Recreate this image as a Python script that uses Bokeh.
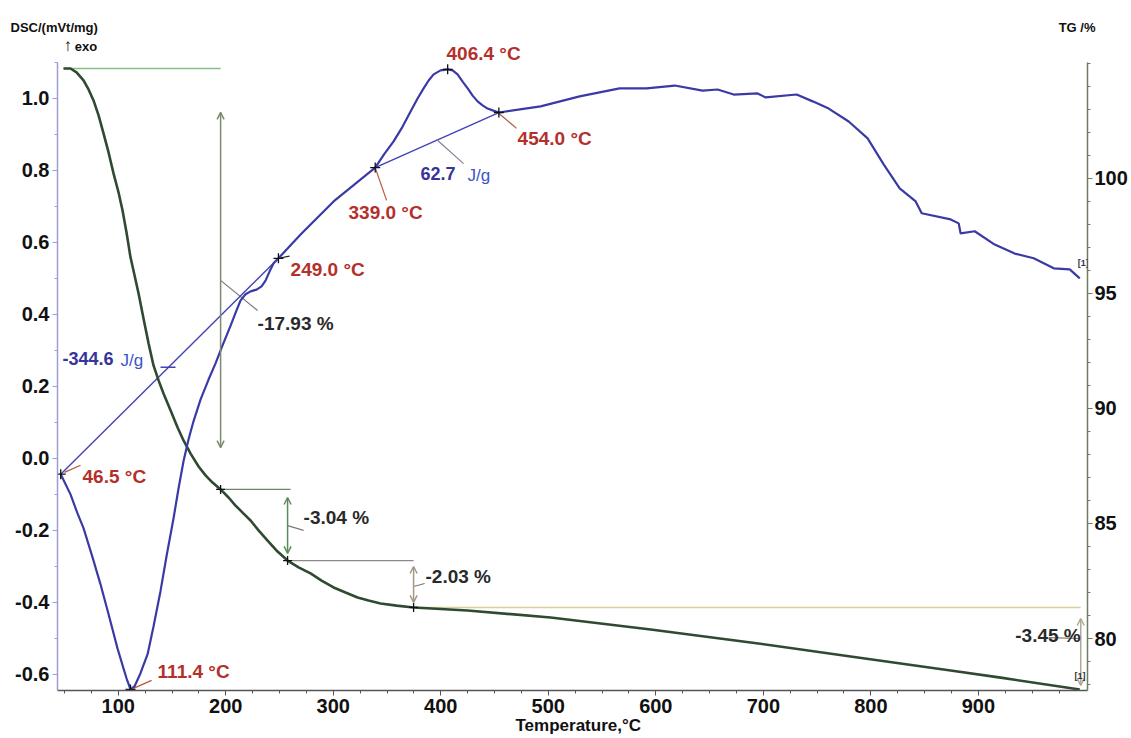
from bokeh.plotting import figure
from bokeh.models import (Range1d, LinearAxis, FixedTicker, PrintfTickFormatter,
                          Label, Arrow, OpenHead, Title)
from bokeh.embed import file_html
from bokeh.resources import INLINE

# ---------------- data ----------------
dsc_T = [46.5, 55.6, 62.1, 67.7, 76.1, 83.5, 91.0, 99.3, 104.0, 107.7, 111.4, 115.2,
         120.7, 127.3, 132.8, 139.3, 144.9, 151.4, 156.1, 160.7, 165.4, 170.0, 176.6,
         184.0, 190.5, 197.0, 204.5, 210.0, 213.8, 218.4, 223.1, 228.7, 233.3, 237.0,
         240.7, 244.5, 249.0, 269.6, 300.3, 339.0, 347.7, 356.1, 364.5, 371.9, 378.4,
         384.0, 388.7, 393.3, 399.8, 406.4, 411.0, 415.6, 420.3, 425.0, 429.6, 434.2,
         438.9, 443.5, 448.2, 454.0,
         492.8, 529.1, 566.3, 591.4, 617.5, 643.5, 657.5, 672.4, 694.7, 702.1,
         731.0, 745.9, 760.8, 779.4, 797.0, 811.9, 826.8, 841.7, 847.3, 874.2, 881.7,
         883.5, 896.6, 915.2, 933.8, 951.5, 970.1, 985.0, 994.3]
dsc_V = [-0.044, -0.100, -0.153, -0.194, -0.275, -0.350, -0.433, -0.528, -0.575, -0.611,
         -0.642, -0.633, -0.597, -0.544, -0.467, -0.369, -0.272, -0.167, -0.083, -0.008,
         0.053, 0.103, 0.164, 0.219, 0.264, 0.314, 0.369, 0.411, 0.439, 0.456, 0.464,
         0.469, 0.478, 0.494, 0.519, 0.542, 0.556, 0.622, 0.714, 0.808, 0.847, 0.881,
         0.922, 0.964, 1.000, 1.028, 1.050, 1.067, 1.078, 1.081, 1.078, 1.067, 1.047,
         1.028, 1.008, 0.992, 0.981, 0.972, 0.967, 0.961,
         0.978, 1.006, 1.028, 1.028, 1.036, 1.022, 1.025, 1.011, 1.014, 1.003,
         1.011, 0.992, 0.972, 0.936, 0.889, 0.817, 0.750, 0.714, 0.681, 0.664, 0.653,
         0.625, 0.631, 0.594, 0.569, 0.556, 0.528, 0.525, 0.500]

tg_T = [49.1, 55.6, 61.2, 67.7, 72.4, 77.0, 81.7, 86.3, 91.0, 95.6, 100.3, 104.0, 107.7,
        111.4, 115.2, 118.9, 123.5, 128.2, 132.8, 137.5, 142.1, 148.7, 155.2, 160.7,
        167.3, 174.7, 181.2, 187.7, 195.2, 202.6, 209.1, 216.6, 223.1, 230.5, 238.9,
        248.2, 257.5, 267.7, 278.9, 289.1, 300.3, 311.4, 322.6, 332.8, 344.0, 358.9,
        374.7, 424.9, 502.1, 595.2, 688.2, 781.2, 874.2, 920.7, 994.3]
tg_V = [104.78, 104.78, 104.61, 104.26, 103.87, 103.39, 102.74, 101.96, 101.13, 100.22,
        99.39, 98.61, 97.65, 96.57, 95.78, 95.00, 93.91, 92.83, 91.87, 91.22, 90.65,
        89.91, 89.17, 88.61, 88.04, 87.48, 87.09, 86.78, 86.48, 86.13, 85.78, 85.43,
        85.13, 84.70, 84.26, 83.78, 83.39, 83.09, 82.83, 82.52, 82.22, 82.00, 81.78,
        81.65, 81.52, 81.43, 81.35, 81.22, 80.91, 80.39, 79.83, 79.22, 78.61, 78.30,
        77.78]

# DSC characteristic points
dsc_mark_T = [46.5, 111.4, 249.0, 339.0, 406.4, 454.0]
dsc_mark_V = [-0.044, -0.642, 0.556, 0.808, 1.081, 0.961]
dsc_mark_txt = ["46.5 °C", "111.4 °C", "249.0 °C", "339.0 °C", "406.4 °C", "454.0 °C"]
peak_areas = ["-344.6", "62.7"]

# TG step points
tg_start = [49.1, 104.78]
tg_mark_T = [195.2, 257.5, 374.7]
tg_mark_V = [86.48, 83.39, 81.35]
tg_steps = ["-17.93 %", "-3.04 %", "-2.03 %", "-3.45 %"]

x_ticks = [100, 200, 300, 400, 500, 600, 700, 800, 900]
x_minor = [50, 75, 125, 150, 175, 225, 250, 275, 325, 350, 375, 425, 450, 475, 525, 550,
           575, 625, 650, 675, 725, 750, 775, 825, 850, 875, 925, 950, 975]
dsc_ticks = [-0.6, -0.4, -0.2, 0.0, 0.2, 0.4, 0.6, 0.8, 1.0]
dsc_minor = [-0.5, -0.3, -0.1, 0.1, 0.3, 0.5, 0.7, 0.9, 1.1]
tg_ticks = [80, 85, 90, 95, 100]
tg_minor = [78, 79, 81, 82, 83, 84, 86, 87, 88, 89, 91, 92, 93, 94, 96, 97, 98, 99,
            101, 102, 103, 104, 105]

# ---------------- figure ----------------
FONT = "Liberation Sans"
RED = "#b3302b"
BLUE = "#3a3aa6"

p = figure(width=1131, height=738, output_backend="svg", toolbar_location=None,
           x_range=Range1d(43.5, 1001.5), y_range=Range1d(-0.645, 1.1778),
           min_border_left=57, min_border_right=44, min_border_top=34,
           min_border_bottom=48)
p.extra_y_ranges = {"tg": Range1d(77.74, 106.257)}
p.outline_line_color = None
p.xgrid.visible = False
p.ygrid.visible = False
p.background_fill_color = "white"
p.border_fill_color = "white"

# top title row: DSC unit on the left, TG unit on the right
p.title.text = "DSC/(mVt/mg)" + "\u00a0" * 266 + "TG /%"
p.title.align = "left"
p.title.offset = -47
p.title.standoff = 0
p.title.text_font = FONT
p.title.text_font_size = "13px"
p.title.text_font_style = "bold"
p.title.text_color = "#111111"

right = LinearAxis(y_range_name="tg")
p.add_layout(right, "right")

def style_axis(ax, color):
    ax.axis_line_color = color
    ax.axis_line_width = 1.5
    ax.major_tick_line_color = color
    ax.minor_tick_line_color = color
    ax.major_tick_in = 0
    ax.major_tick_out = 5
    ax.minor_tick_in = 0
    ax.minor_tick_out = 3
    ax.major_label_text_font = FONT
    ax.major_label_text_font_style = "bold"
    ax.major_label_text_font_size = "20px"
    ax.major_label_text_color = "#111111"
    ax.major_label_standoff = 3

xa = p.xaxis[0]
xa.ticker = FixedTicker(ticks=x_ticks, minor_ticks=x_minor)
style_axis(xa, "#555555")
xa.major_label_standoff = 3

ya = p.yaxis[0]
ya.ticker = FixedTicker(ticks=dsc_ticks, minor_ticks=dsc_minor)
ya.formatter = PrintfTickFormatter(format="%.1f")
style_axis(ya, "#9c9cd8")
ya.bounds = (-0.645, 1.10)

right.ticker = FixedTicker(ticks=tg_ticks, minor_ticks=tg_minor)
style_axis(right, "#6e7e62")
right.major_label_standoff = 2
right.bounds = (77.74, 105.04)

p.add_layout(Title(text="Temperature,°C", align="left", offset=458, standoff=-4,
                   text_font=FONT, text_font_size="17px", text_font_style="bold",
                   text_color="#111111"), "below")

# ---------------- TG annotation lines ----------------
p.segment(x0=[tg_start[0]], y0=[tg_start[1]], x1=[tg_mark_T[0]], y1=[tg_start[1]],
          y_range_name="tg", line_color="#86bf86", line_width=1.5)
p.segment(x0=[tg_mark_T[0]], y0=[tg_mark_V[0]], x1=[260.3], y1=[tg_mark_V[0]],
          y_range_name="tg", line_color="#6a876a", line_width=1.3)
p.segment(x0=[tg_mark_T[1]], y0=[tg_mark_V[1]], x1=[tg_mark_T[2]], y1=[tg_mark_V[1]],
          y_range_name="tg", line_color="#8a8a86", line_width=1.3)
p.segment(x0=[tg_mark_T[2]], y0=[tg_mark_V[2]], x1=[995.2], y1=[tg_mark_V[2]],
          y_range_name="tg", line_color="#d8cf9c", line_width=1.5)

def darrow(x, y0, y1, color):
    p.add_layout(Arrow(x_start=x, y_start=y0, x_end=x, y_end=y1, y_range_name="tg",
                       line_color=color, line_width=1.5,
                       start=OpenHead(size=7, line_color=color, line_width=1.5),
                       end=OpenHead(size=7, line_color=color, line_width=1.5)))

darrow(tg_mark_T[0], 102.87, 88.30, "#7d8a70")
darrow(tg_mark_T[1], 86.13, 83.70, "#5b8a5b")
darrow(tg_mark_T[2], 83.13, 81.57, "#a39886")
darrow(995.2, 80.87, 77.96, "#b0a898")

# leaders for TG step texts
p.segment(x0=[195.2, 257.5, 374.7, 965.4], y0=[95.57, 84.91, 82.26, 80.04],
          x1=[229.6, 272.4, 385.0, 995.2], y1=[94.26, 84.70, 82.39, 80.00],
          y_range_name="tg", line_color="#7a7a72", line_width=1.2)

# ---------------- DSC baselines & leaders ----------------
p.segment(x0=[dsc_mark_T[0], dsc_mark_T[3]], y0=[dsc_mark_V[0], dsc_mark_V[3]],
          x1=[dsc_mark_T[2], dsc_mark_T[5]], y1=[dsc_mark_V[2], dsc_mark_V[5]],
          line_color="#4343b8", line_width=1.4)
p.segment(x0=[139.3], y0=[0.253], x1=[153.3], y1=[0.253], line_color="#4343b8", line_width=1.4)
p.segment(x0=[396.1], y0=[0.886], x1=[421.2], y1=[0.819], line_color="#8a7c99", line_width=1.2)
p.segment(x0=[50.0, 114.2, 339.0, 453.0], y0=[-0.039, -0.639, 0.808, 0.961],
          x1=[64.9, 131.0, 349.6, 470.5], y1=[-0.019, -0.617, 0.717, 0.917],
          line_color="#b4573f", line_width=1.2)
p.segment(x0=[249.0], y0=[0.556], x1=[259.3], y1=[0.562], line_color="#222222", line_width=1.2)

# ---------------- curves ----------------
p.line(tg_T, tg_V, y_range_name="tg", line_color="#2f4a30", line_width=2.6)
p.line(dsc_T, dsc_V, line_color=BLUE, line_width=2.2)

p.scatter(dsc_mark_T, dsc_mark_V, marker="cross", size=10, line_color="#111111", line_width=1.3)
p.scatter(tg_mark_T, tg_mark_V, marker="cross", size=9, line_color="#111111", line_width=1.3,
          y_range_name="tg")

# ---------------- texts ----------------
def lab(x, y, t, color, size="19px", style="bold", align="left", yr="default",
        baseline="middle"):
    p.add_layout(Label(x=x, y=y, text=t, text_color=color, text_font=FONT,
                       text_font_size=size, text_font_style=style, text_align=align,
                       text_baseline=baseline, y_range_name=yr))

lab(66.8, -0.050, dsc_mark_txt[0], RED)
lab(136.6, -0.592, dsc_mark_txt[1], RED)
lab(260.3, 0.525, dsc_mark_txt[2], RED)
lab(314.2, 0.683, dsc_mark_txt[3], RED)
lab(405.3, 1.125, dsc_mark_txt[4], RED)
lab(471.4, 0.889, dsc_mark_txt[5], RED)

lab(48.2, 0.278, peak_areas[0], "#35359a", size="18px")
lab(102.1, 0.272, "J/g", "#3a55c8", size="17px", style="normal")
lab(381.2, 0.792, peak_areas[1], "#35359a", size="18px")
lab(424.9, 0.786, "J/g", "#3a55c8", size="17px", style="normal")

lab(229.6, 93.70, tg_steps[0], "#2a2a2a", yr="tg")
lab(272.4, 85.26, tg_steps[1], "#2a2a2a", yr="tg")
lab(385.8, 82.70, tg_steps[2], "#2a2a2a", yr="tg")
lab(995.2, 80.13, tg_steps[3], "#2a2a2a", align="right", yr="tg")

lab(992.4, 0.542, "[1]", "#333355", size="9px")
lab(989.5, 78.39, "[1]", "#333333", size="9px", yr="tg")

lab(49.1, 1.146, "↑", "#111111", size="17px")
lab(59.5, 1.144, "exo", "#111111", size="13px")

open("out.html", "w").write(file_html(p, INLINE))
